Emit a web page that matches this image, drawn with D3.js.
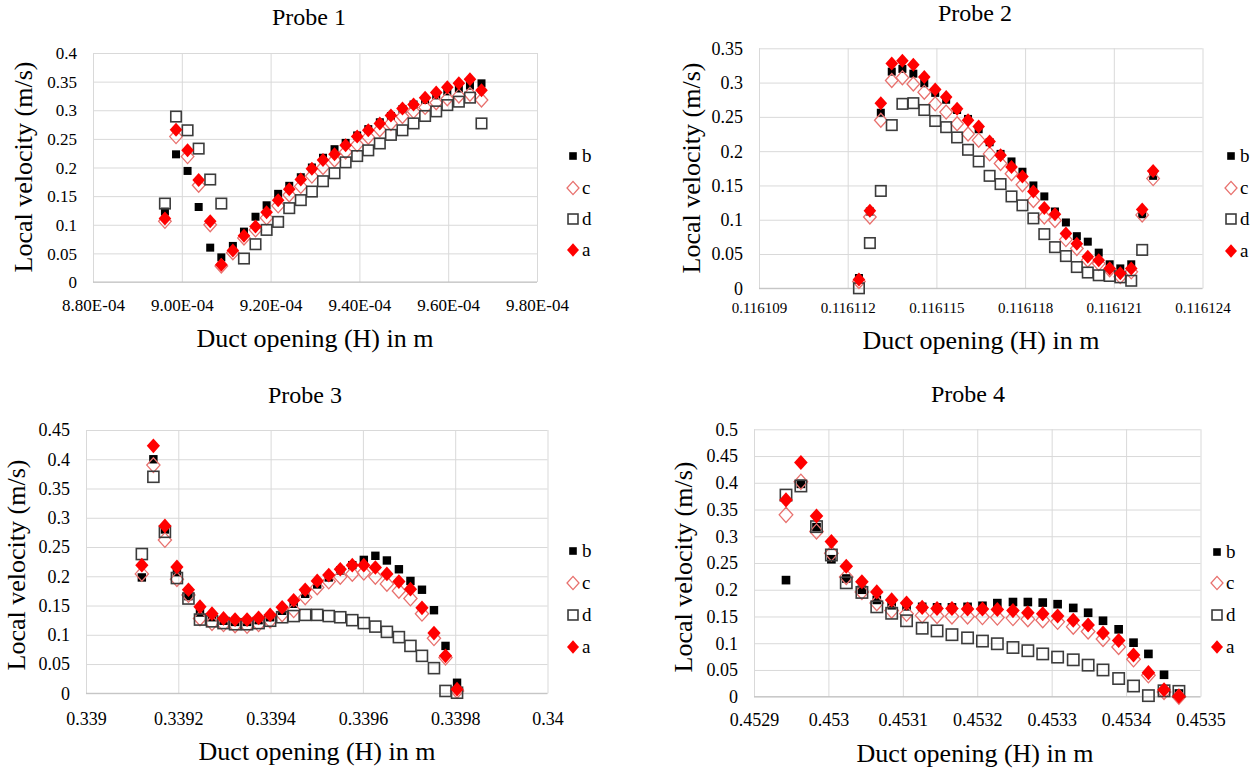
<!DOCTYPE html>
<html>
<head>
<meta charset="utf-8">
<script src="https://cdn.jsdelivr.net/npm/d3@7"></script>
<style>
  body { margin: 0; background: #fff; }
  svg { display: block; background: #fff; }
</style>
</head>
<body>
<svg id="chart" width="1257" height="771"></svg>
<script>
// ---- data ----
var seriesNames = ["b", "c", "d", "a"];

// Probe 1
var p1X = [0.0008962, 0.0008987, 0.0009013, 0.0009038, 0.0009064, 0.0009089, 0.0009115, 0.0009140,
           0.0009166, 0.0009191, 0.0009217, 0.0009242, 0.0009268, 0.0009293, 0.0009318, 0.0009344,
           0.0009369, 0.0009395, 0.0009420, 0.0009446, 0.0009471, 0.0009497, 0.0009522, 0.0009548,
           0.0009573, 0.0009598, 0.0009624, 0.0009649, 0.0009675];
var p1A = [0.111, 0.266, 0.230, 0.178, 0.106, 0.030, 0.055, 0.081, 0.097, 0.122, 0.143, 0.162, 0.179, 0.198, 0.213,
           0.223, 0.239, 0.254, 0.265, 0.277, 0.291, 0.303, 0.310, 0.322, 0.331, 0.340, 0.347, 0.354, 0.335];
var p1B = [0.123, 0.223, 0.194, 0.131, 0.060, 0.043, 0.063, 0.088, 0.114, 0.134, 0.154, 0.168, 0.183, 0.200, 0.217,
           0.232, 0.243, 0.256, 0.267, 0.279, 0.290, 0.302, 0.310, 0.318, 0.326, 0.333, 0.338, 0.343, 0.347];
var p1C = [0.106, 0.254, 0.219, 0.169, 0.100, 0.028, 0.051, 0.077, 0.091, 0.112, 0.133, 0.152, 0.167, 0.185, 0.200,
           0.213, 0.227, 0.240, 0.253, 0.266, 0.277, 0.289, 0.298, 0.305, 0.313, 0.320, 0.325, 0.328, 0.318];
var p1D = [0.137, 0.289, 0.265, 0.233, 0.179, 0.137, null, 0.041, 0.066, 0.091, 0.105, 0.129, 0.143, 0.158, 0.176,
           0.190, 0.209, 0.220, 0.230, 0.242, 0.257, 0.265, 0.277, 0.290, 0.298, 0.309, 0.315, 0.322, 0.277];
var p1XTicks = [0.00088, 0.00090, 0.00092, 0.00094, 0.00096, 0.00098];
var p1XLabels = ["8.80E-04", "9.00E-04", "9.20E-04", "9.40E-04", "9.60E-04", "9.80E-04"];
var p1YTicks = [0, 0.05, 0.1, 0.15, 0.2, 0.25, 0.3, 0.35, 0.4];
var p1YLabels = ["0", "0.05", "0.1", "0.15", "0.2", "0.25", "0.3", "0.35", "0.4"];

// Probe 2
var p2X = [0.11611238, 0.11611275, 0.11611312, 0.11611349, 0.11611385, 0.11611422, 0.11611459, 0.11611496,
           0.11611533, 0.11611570, 0.11611607, 0.11611643, 0.11611680, 0.11611717, 0.11611754, 0.11611791,
           0.11611828, 0.11611865, 0.11611901, 0.11611938, 0.11611975, 0.11612012, 0.11612049, 0.11612086,
           0.11612122, 0.11612159, 0.11612196, 0.11612233];
var p2A = [0.013, 0.113, 0.270, 0.328, 0.332, 0.326, 0.308, 0.290, 0.279, 0.262, 0.245, 0.236, 0.214, 0.194,
           0.177, 0.163, 0.141, 0.117, 0.108, 0.080, 0.065, 0.046, 0.041, 0.029, 0.022, 0.029, 0.115, 0.171];
var p2B = [0.015, 0.112, 0.256, 0.316, 0.320, 0.313, 0.299, 0.285, 0.275, 0.260, 0.247, 0.232, 0.213, 0.196,
           0.185, 0.170, 0.150, 0.134, 0.112, 0.096, 0.076, 0.068, 0.052, 0.035, 0.029, 0.035, 0.108, 0.164];
var p2C = [0.010, 0.104, 0.245, 0.303, 0.307, 0.298, 0.286, 0.269, 0.257, 0.240, 0.225, 0.216, 0.196, 0.182,
           0.167, 0.151, 0.128, 0.104, 0.099, 0.071, 0.058, 0.041, 0.036, 0.027, 0.017, 0.024, 0.107, 0.160];
var p2D = [0.000, 0.066, 0.142, 0.238, 0.269, 0.270, 0.260, 0.244, 0.235, 0.220, 0.202, 0.185, 0.164, 0.152,
           0.134, 0.121, 0.102, 0.079, 0.060, 0.047, 0.031, 0.023, 0.019, 0.018, 0.016, 0.011, 0.056, null];
var p2XTicks = [0.116109, 0.116112, 0.116115, 0.116118, 0.116121, 0.116124];
var p2XLabels = ["0.116109", "0.116112", "0.116115", "0.116118", "0.116121", "0.116124"];
var p2YTicks = [0, 0.05, 0.1, 0.15, 0.2, 0.25, 0.3, 0.35];
var p2YLabels = ["0", "0.05", "0.1", "0.15", "0.2", "0.25", "0.3", "0.35"];

// Probe 3
var p3X = [0.339121, 0.339146, 0.339171, 0.339197, 0.339222, 0.339247, 0.339273, 0.339298, 0.339323, 0.339349,
           0.339374, 0.339399, 0.339425, 0.339450, 0.339475, 0.339501, 0.339526, 0.339551, 0.339577, 0.339602,
           0.339627, 0.339652, 0.339678, 0.339703, 0.339728, 0.339754, 0.339779, 0.339804];
var p3A = [0.219, 0.423, 0.286, 0.216, 0.177, 0.148, 0.136, 0.128, 0.126, 0.126, 0.129, 0.134, 0.147, 0.159,
           0.177, 0.192, 0.202, 0.212, 0.219, 0.219, 0.215, 0.204, 0.191, 0.178, 0.146, 0.103, 0.064, 0.007];
var p3B = [0.198, 0.400, 0.280, 0.207, 0.166, 0.138, 0.130, 0.124, 0.122, 0.122, 0.125, 0.130, 0.141, 0.153,
           0.170, 0.186, 0.198, 0.210, 0.219, 0.228, 0.235, 0.227, 0.212, 0.192, 0.177, 0.142, 0.081, 0.018];
var p3C = [0.204, 0.390, 0.262, 0.195, 0.168, 0.128, 0.120, 0.118, 0.116, 0.115, 0.118, 0.124, 0.135, 0.142,
           0.164, 0.181, 0.191, 0.199, 0.204, 0.206, 0.199, 0.187, 0.175, 0.162, 0.136, 0.094, 0.061, 0.004];
var p3D = [0.238, 0.370, 0.276, 0.197, 0.162, 0.126, 0.123, 0.120, 0.118, 0.118, 0.120, 0.124, 0.130, 0.132,
           0.134, 0.134, 0.132, 0.130, 0.125, 0.120, 0.114, 0.105, 0.096, 0.081, 0.064, 0.043, 0.004, 0.001];
var p3XTicks = [0.339, 0.3392, 0.3394, 0.3396, 0.3398, 0.34];
var p3XLabels = ["0.339", "0.3392", "0.3394", "0.3396", "0.3398", "0.34"];
var p3YTicks = [0, 0.05, 0.1, 0.15, 0.2, 0.25, 0.3, 0.35, 0.4, 0.45];
var p3YLabels = ["0", "0.05", "0.1", "0.15", "0.2", "0.25", "0.3", "0.35", "0.4", "0.45"];

// Probe 4
var p4X = [0.452943, 0.452963, 0.452984, 0.453004, 0.453024, 0.453045, 0.453065, 0.453085, 0.453105,
           0.453126, 0.453146, 0.453166, 0.453187, 0.453207, 0.453227, 0.453248, 0.453268, 0.453288,
           0.453308, 0.453329, 0.453349, 0.453369, 0.453390, 0.453410, 0.453430, 0.453451, 0.453471];
var p4A = [0.368, 0.438, 0.338, 0.290, 0.244, 0.215, 0.196, 0.181, 0.175, 0.167, 0.165, 0.165, 0.164, 0.164,
           0.163, 0.161, 0.157, 0.155, 0.151, 0.143, 0.134, 0.119, 0.105, 0.078, 0.045, 0.013, 0.001];
var p4B = [0.218, 0.398, 0.317, 0.257, 0.221, 0.200, 0.181, 0.171, 0.169, 0.168, 0.167, 0.167, 0.168, 0.170,
           0.175, 0.177, 0.177, 0.176, 0.173, 0.166, 0.157, 0.142, 0.126, 0.101, 0.080, 0.041, 0.006];
var p4C = [0.340, 0.402, 0.309, 0.268, 0.224, 0.196, 0.175, 0.161, 0.155, 0.152, 0.151, 0.150, 0.150, 0.149,
           0.148, 0.147, 0.145, 0.143, 0.140, 0.131, 0.122, 0.108, 0.093, 0.070, 0.040, 0.009, 0.000];
var p4D = [0.377, 0.394, 0.318, 0.265, 0.213, 0.195, 0.168, 0.156, 0.142, 0.128, 0.123, 0.116, 0.110, 0.104,
           0.099, 0.092, 0.086, 0.080, 0.074, 0.069, 0.059, 0.050, 0.034, 0.020, 0.002, 0.011, 0.010];
var p4XTicks = [0.4529, 0.453, 0.4531, 0.4532, 0.4533, 0.4534, 0.4535];
var p4XLabels = ["0.4529", "0.453", "0.4531", "0.4532", "0.4533", "0.4534", "0.4535"];
var p4YTicks = [0, 0.05, 0.1, 0.15, 0.2, 0.25, 0.3, 0.35, 0.4, 0.45, 0.5];
var p4YLabels = ["0", "0.05", "0.1", "0.15", "0.2", "0.25", "0.3", "0.35", "0.4", "0.45", "0.5"];

var titles = ["Probe 1", "Probe 2", "Probe 3", "Probe 4"];
var xTitle = "Duct opening (H) in m";
var yTitle = "Local velocity (m/s)";

// ---- layout ----
var font = "'Liberation Serif', 'Times New Roman', serif";
var panels = [
  { title: titles[0], xs: p1X, series: { a: p1A, b: p1B, c: p1C, d: p1D },
    xTicks: p1XTicks, xLabels: p1XLabels, yTicks: p1YTicks, yLabels: p1YLabels,
    left: 93, right: 537, top: 53, bottom: 282,
    titleX: 309, titleY: 17, xtX: 315, xtY: 338, ytX: 23, ytY: 167, xlY: 305,
    xFont: 17, yFont: 17, legX: 573, legY: [156, 188, 219, 250], ms: 1 },
  { title: titles[1], xs: p2X, series: { a: p2A, b: p2B, c: p2C, d: p2D },
    xTicks: p2XTicks, xLabels: p2XLabels, yTicks: p2YTicks, yLabels: p2YLabels,
    left: 759, right: 1202.5, top: 48.3, bottom: 288.3,
    titleX: 975, titleY: 13, xtX: 981, xtY: 340, ytX: 691, ytY: 168, xlY: 308,
    xFont: 15, yFont: 18, legX: 1231, legY: [156, 188, 219, 251], ms: 1 },
  { title: titles[2], xs: p3X, series: { a: p3A, b: p3B, c: p3C, d: p3D },
    xTicks: p3XTicks, xLabels: p3XLabels, yTicks: p3YTicks, yLabels: p3YLabels,
    left: 86, right: 547.5, top: 430, bottom: 693.3,
    titleX: 305, titleY: 395, xtX: 317, xtY: 751, ytX: 16, ytY: 565, xlY: 719,
    xFont: 18, yFont: 18, legX: 573, legY: [551, 583, 615, 647], ms: 1.05 },
  { title: titles[3], xs: p4X, series: { a: p4A, b: p4B, c: p4C, d: p4D },
    xTicks: p4XTicks, xLabels: p4XLabels, yTicks: p4YTicks, yLabels: p4YLabels,
    left: 754, right: 1200.5, top: 429.3, bottom: 696.7,
    titleX: 968, titleY: 394, xtX: 975, xtY: 753, ytX: 683, ytY: 567, xlY: 720,
    xFont: 18, yFont: 18, legX: 1217, legY: [552, 583, 615, 647], ms: 1.08 }
];

var svg = d3.select("#chart");

// marker shapes, drawn around (0,0)
function addMarker(g, name, k) {
  if (name === "b") {
    var s = 8 * k;
    g.append("rect").attr("x", -s / 2).attr("y", -s / 2).attr("width", s).attr("height", s)
      .attr("fill", "#000");
  } else if (name === "d") {
    var s2 = 10.5 * k;
    g.append("rect").attr("x", -s2 / 2).attr("y", -s2 / 2).attr("width", s2).attr("height", s2)
      .attr("fill", "none").attr("stroke", "#3c3c3c").attr("stroke-width", 1.6);
  } else {
    var rx = 6.3 * k, ry = 7 * k;
    var p = d3.path();
    p.moveTo(0, -ry); p.lineTo(rx, 0); p.lineTo(0, ry); p.lineTo(-rx, 0); p.closePath();
    if (name === "a") {
      g.append("path").attr("d", p.toString()).attr("fill", "#ff0000");
    } else {
      g.append("path").attr("d", p.toString()).attr("fill", "none")
        .attr("stroke", "#e8716e").attr("stroke-width", 1.3);
    }
  }
}

function drawPanel(p) {
  var g = svg.append("g");
  var w = p.right - p.left, h = p.bottom - p.top;

  var x = d3.scaleLinear().domain([p.xTicks[0], p.xTicks[p.xTicks.length - 1]]).range([p.left, p.right]);
  var y = d3.scaleLinear().domain([p.yTicks[0], p.yTicks[p.yTicks.length - 1]]).range([p.bottom, p.top]);

  // y axis + horizontal gridlines
  var ya = g.append("g").attr("transform", "translate(" + p.left + ",0)")
    .call(d3.axisLeft(y).tickValues(p.yTicks).tickSize(-w).tickPadding(16)
      .tickFormat(function(d, i) { return p.yLabels[i]; }));
  ya.select(".domain").remove();
  ya.selectAll("line").attr("stroke", "#d9d9d9");
  ya.attr("font-family", font).attr("font-size", p.yFont);
  ya.selectAll("text").attr("fill", "#000").attr("dy", "0.33em");

  // x axis + vertical gridlines
  var xa = g.append("g").attr("transform", "translate(0," + p.bottom + ")")
    .call(d3.axisBottom(x).tickValues(p.xTicks).tickSize(-h)
      .tickFormat(function(d, i) { return p.xLabels[i]; }));
  xa.select(".domain").remove();
  xa.selectAll("line").attr("stroke", "#d9d9d9");
  xa.attr("font-family", font).attr("font-size", p.xFont);
  xa.selectAll("text").attr("fill", "#000").attr("y", p.xlY - p.bottom).attr("dy", "0.35em");

  // horizontal axis line
  g.append("line").attr("x1", p.left).attr("x2", p.right)
    .attr("y1", y(0)).attr("y2", y(0)).attr("stroke", "#bfbfbf");

  // points, series order b, c, d, a (a on top)
  seriesNames.forEach(function(name) {
    var vals = p.series[name];
    var pts = p.xs.map(function(xv, i) { return { x: xv, v: vals[i] }; })
      .filter(function(d) { return d.v !== null; });
    g.append("g").selectAll("g").data(pts).enter().append("g")
      .attr("transform", function(d) { return "translate(" + x(d.x) + "," + y(d.v) + ")"; })
      .each(function() { addMarker(d3.select(this), name, p.ms); });
  });

  // titles
  g.append("text").attr("x", p.titleX).attr("y", p.titleY).attr("dy", "0.35em")
    .attr("text-anchor", "middle").attr("font-family", font).attr("font-size", 24)
    .text(p.title);
  g.append("text").attr("x", p.xtX).attr("y", p.xtY).attr("dy", "0.35em")
    .attr("text-anchor", "middle").attr("font-family", font).attr("font-size", 26)
    .text(xTitle);
  g.append("text").attr("transform", "translate(" + p.ytX + "," + p.ytY + ") rotate(-90)")
    .attr("dy", "0.35em").attr("text-anchor", "middle").attr("font-family", font).attr("font-size", 26)
    .text(yTitle);

  // legend
  seriesNames.forEach(function(name, i) {
    var lg = g.append("g").attr("transform", "translate(" + p.legX + "," + p.legY[i] + ")");
    addMarker(lg, name, 0.95);
    lg.append("text").attr("x", 9).attr("dy", "0.33em").attr("font-family", font)
      .attr("font-size", 19).text(name);
  });
}

panels.forEach(drawPanel);
</script>
</body>
</html>
